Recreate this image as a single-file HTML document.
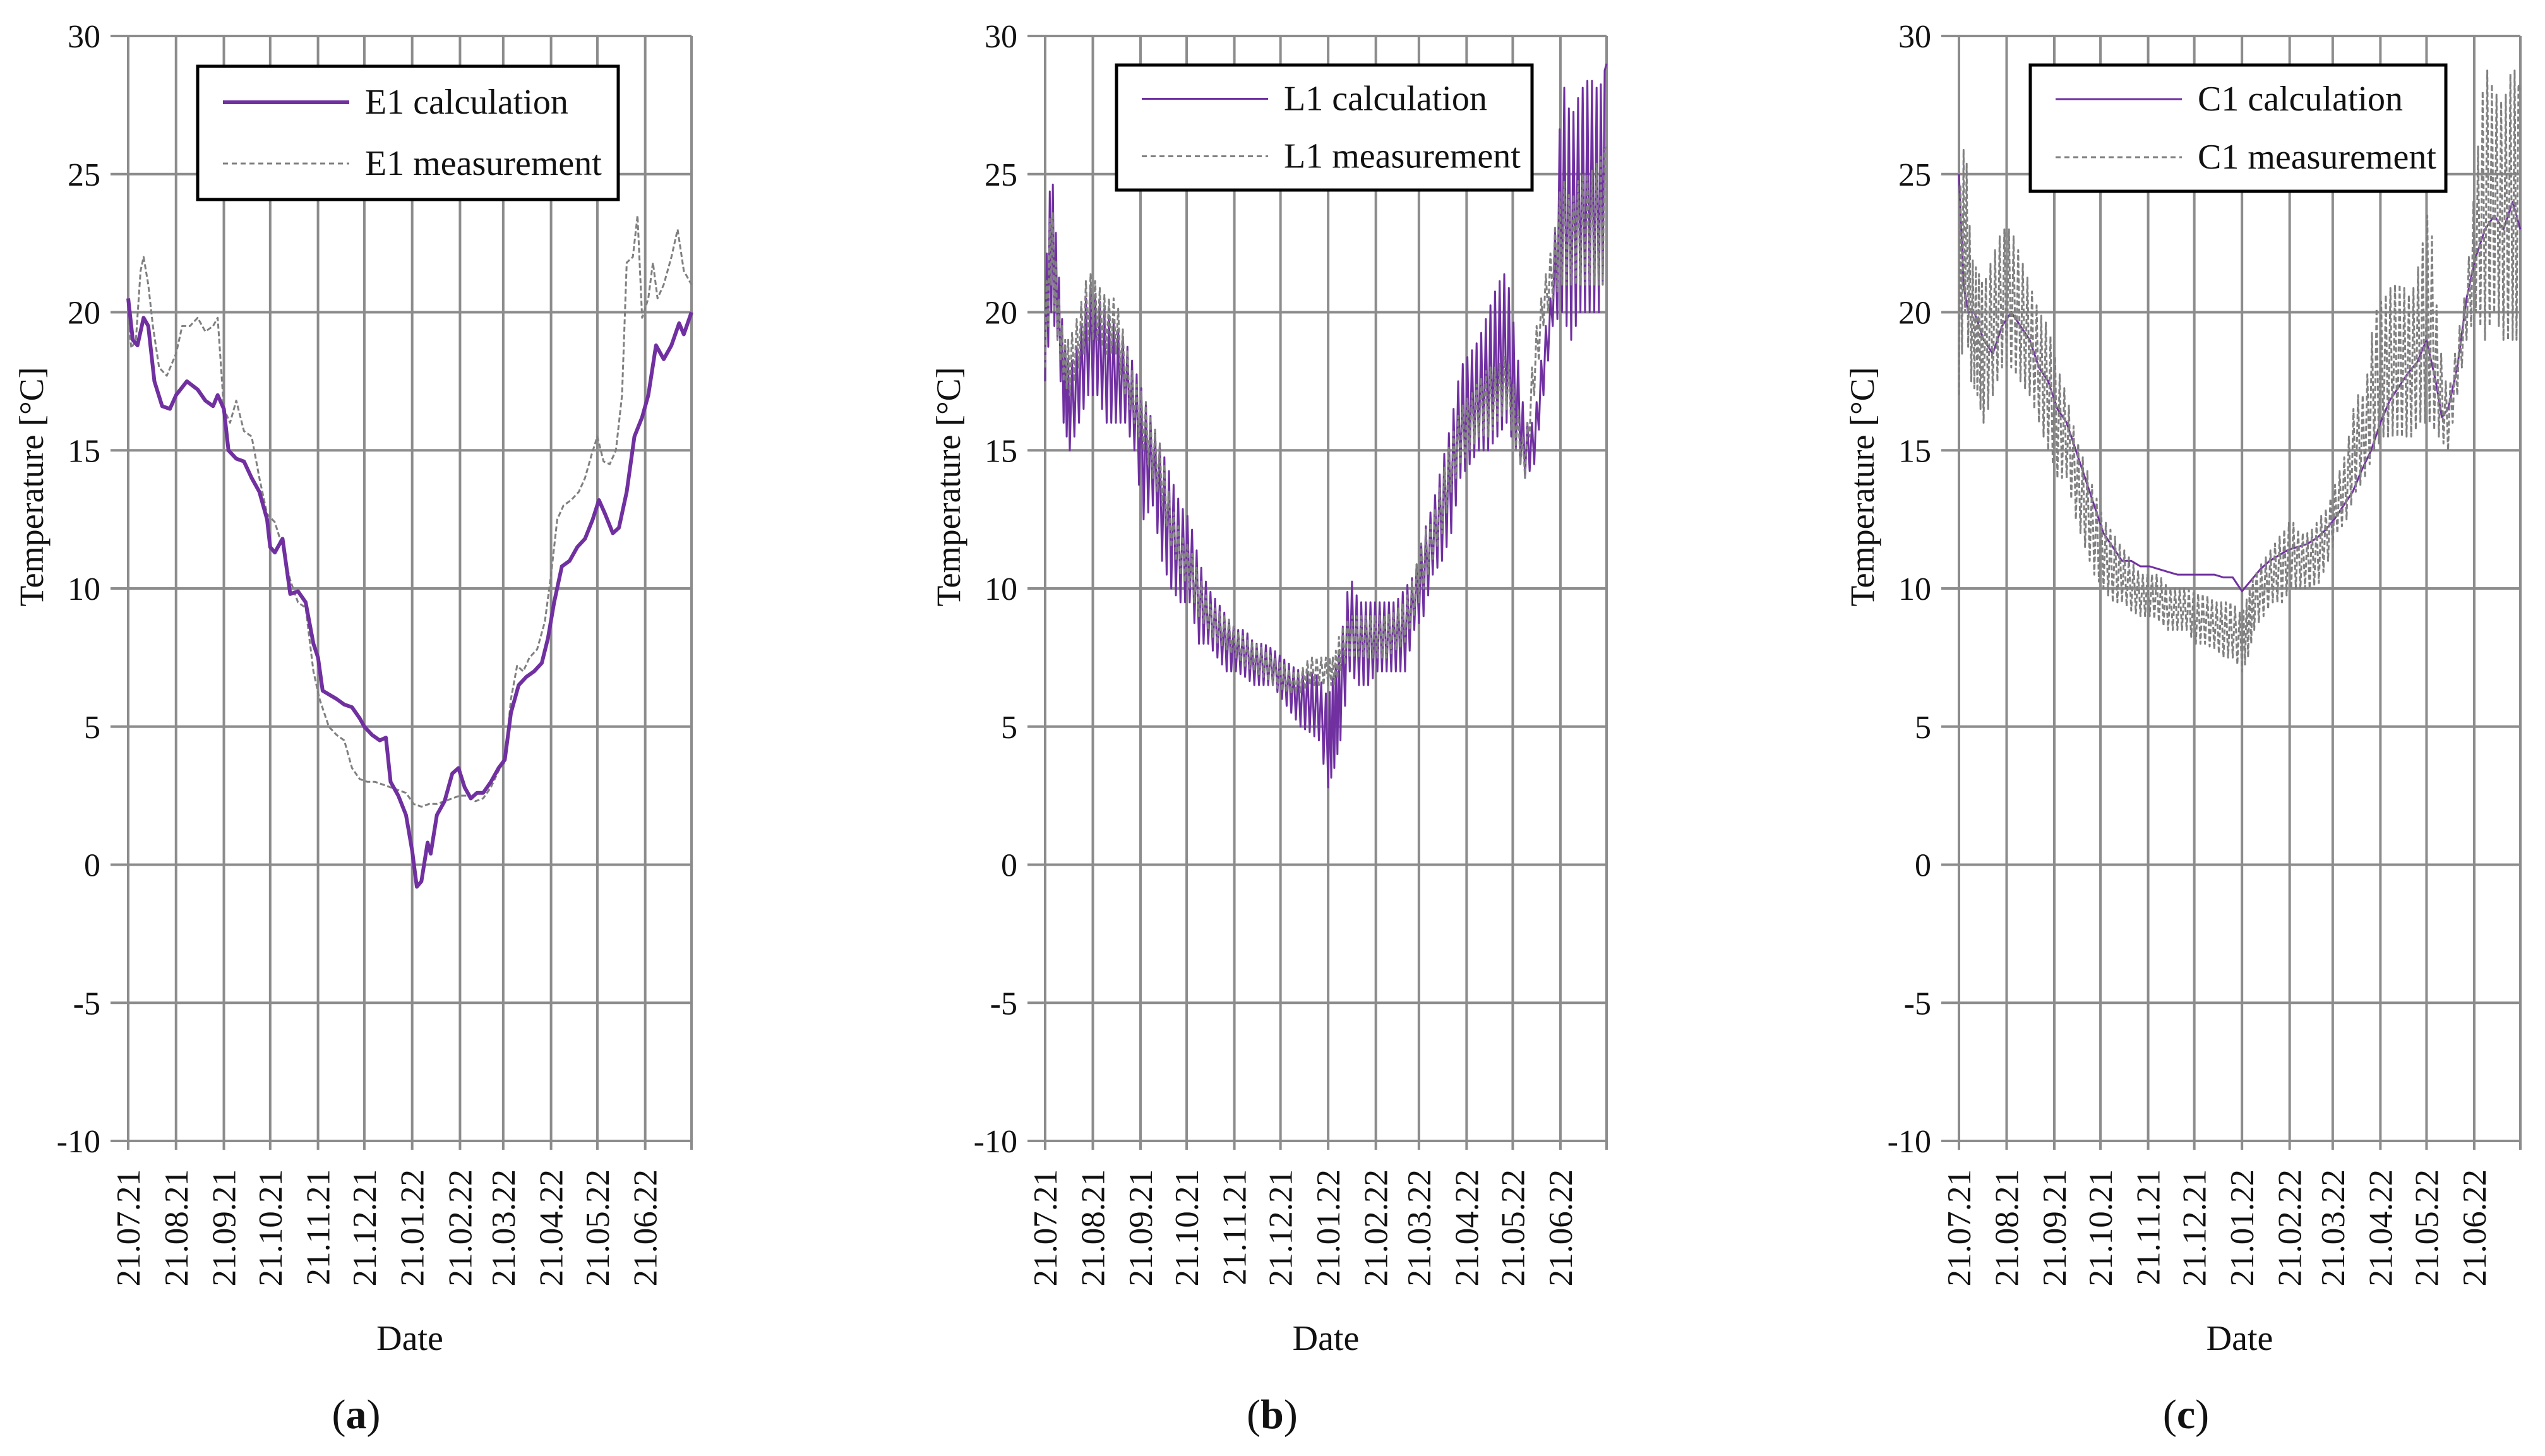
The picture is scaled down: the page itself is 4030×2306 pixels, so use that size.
<!DOCTYPE html>
<html><head><meta charset="utf-8"><style>
html,body{margin:0;padding:0;background:#fff;}
svg{display:block;font-family:"Liberation Serif",serif;}
svg text{font-family:"Liberation Serif",serif;}
</style></head><body>
<svg id="fig" width="4030" height="2306" viewBox="0 0 4030 2306" font-family="Liberation Serif, serif" xmlns="http://www.w3.org/2000/svg"></svg>
<script>
// ---------- data ----------
const monthLabels = ["21.07.21","21.08.21","21.09.21","21.10.21","21.11.21","21.12.21","21.01.22","21.02.22","21.03.22","21.04.22","21.05.22","21.06.22"];
const monthDays = [0,31,62,92,123,153,184,215,243,274,304,335];
const yTicks = [-10,-5,0,5,10,15,20,25,30];

// Panel a (smooth lines): [day, value]
const e1CalcDays = [0,3,6,10,13,17,22,27,31,38,45,50,55,58,62,65,70,75,80,85,90,92,95,100,105,110,115,120,123,126,135,140,145,150,153,158,163,167,170,175,180,184,187,190,194,196,200,205,210,214,218,222,226,230,235,240,244,248,253,258,263,268,272,276,281,286,291,296,301,305,309,314,318,323,328,333,337,342,347,352,357,360,365];
const e1CalcVals = [20.5,19,18.8,19.8,19.5,17.5,16.6,16.5,17.0,17.5,17.2,16.8,16.6,17.0,16.5,15.0,14.7,14.6,14.0,13.5,12.5,11.5,11.3,11.8,9.8,9.9,9.5,8.0,7.5,6.3,6.0,5.8,5.7,5.3,5.0,4.7,4.5,4.6,3.0,2.5,1.8,0.5,-0.8,-0.6,0.8,0.4,1.8,2.3,3.3,3.5,2.8,2.4,2.6,2.6,3.0,3.5,3.8,5.5,6.5,6.8,7.0,7.3,8.2,9.5,10.8,11.0,11.5,11.8,12.5,13.2,12.7,12.0,12.2,13.5,15.5,16.2,17.0,18.8,18.3,18.8,19.6,19.2,20.0];
const e1MeasDays = [0,2,5,8,10,13,16,20,25,31,35,40,45,50,55,58,62,66,70,75,80,85,90,95,100,105,110,115,120,124,130,135,140,145,150,155,160,165,170,175,180,185,190,195,200,205,210,215,220,225,230,235,240,244,248,252,256,260,265,270,274,278,282,287,292,296,300,304,308,312,316,320,323,327,330,333,337,340,343,347,352,356,360,365];
const e1MeasVals = [20,18.7,19.0,21.5,22.0,21.0,19.5,18.0,17.7,18.5,19.5,19.5,19.8,19.3,19.5,19.8,16.5,16.0,16.8,15.7,15.5,14.0,12.7,12.4,11.5,10.3,9.5,9.3,7.0,6.0,5.0,4.7,4.5,3.5,3.1,3.0,3.0,2.9,2.8,2.7,2.6,2.2,2.1,2.2,2.2,2.3,2.4,2.5,2.5,2.3,2.4,2.8,3.4,3.7,6.0,7.2,7.0,7.5,7.8,8.8,10.5,12.5,13.0,13.2,13.5,14.0,14.8,15.5,14.6,14.5,15.0,17.0,21.8,22.0,23.5,19.8,20.5,21.8,20.5,21.0,22.0,23.0,21.5,21.0];

// Panel b (noisy, envelope lo/hi)
const envDays = [0,4,8,12,16,22,28,34,40,46,52,58,64,70,76,82,88,94,100,106,112,118,124,130,136,142,148,154,160,166,172,178,184,188,192,198,204,210,216,222,228,234,240,246,252,258,264,270,276,282,288,294,300,306,312,318,324,330,336,342,348,354,360,365];
const l1CalcLo = [17.5,20,19,16,15,16,17,17,16,16,16,15,12.5,13,11,10,9.5,9.5,8,8,7.5,7,7,6.8,6.5,6.5,6.5,6,5.5,5,4.8,4.5,2.8,3.5,4.5,7,6.5,6.5,7,7,7,7,8.5,9,10.5,11,12,14,14.5,15,15,15.5,16,15,14,14.5,17,19.5,20,19,20,20,20,22];
const l1CalcHi = [21,25.5,22,19,18,19,21,20.5,20,19.5,19,18,17,16,15,14,13,12.5,11,10,9.5,9,8.5,8.5,8,8,7.8,7.5,7.2,7,7,6.8,6,7,8,10.5,9.5,9.5,9.5,9.5,9.5,10,10.5,12,13,14.5,16,18,18.5,19,20,21,21.5,19,16,16,19,21,28.5,27,28,28.5,28,29];
const l1MeasLo = [18,21,19,17.5,17,18,19,19,18.5,18.5,17,16,15,14,13,11.5,10.5,10,9,8.5,8,7.8,7.5,7.2,7,6.8,6.5,6.3,6.2,6.2,6.5,6.5,6.5,6.5,7,7.5,7.5,7.5,7.5,7.5,7.8,8,9,10,11,12,13.5,14.5,15,15.5,15.5,16,16.5,15,14,17,19.5,20.5,21,21,21,21,21,21];
const l1MeasHi = [20,24.5,21,19,19,20,21.5,21,20.5,20.5,19,17.5,17,16,15,13,12,11.5,10.5,9.5,9.2,9,8.5,8.2,8,7.8,7.5,7.3,7,7,7.5,7.5,7.5,7.5,8.5,9,9,9,9,9,9.2,9.5,10.5,12,12.5,14,15.5,16.5,17,17.5,18,18,18.5,17,15,19,21,22.5,25,24,25,25,25.5,26];

// Panel c
const c1CalcDays = [0,3,6,10,16,22,28,34,40,46,52,58,64,70,76,82,88,94,100,106,112,118,124,130,136,142,148,154,160,166,172,178,184,190,196,202,208,214,220,226,232,238,244,250,256,262,268,274,280,286,292,298,304,310,314,318,324,330,336,342,348,354,360,365];
const c1CalcVals = [25,21,20,20,19,18.5,19.5,20,19.5,19,18,17.5,16.5,16,15,14,13,12,11.5,11,11,10.8,10.8,10.7,10.6,10.5,10.5,10.5,10.5,10.5,10.4,10.4,9.9,10.3,10.7,11,11.2,11.4,11.5,11.6,11.8,12.1,12.5,13,13.5,14.3,15,16,16.8,17.3,17.8,18.2,19,17.5,16.2,16.5,18,20.5,22,23,23.5,23,24,23];
const c1MeasLo = [17,20,17.5,17,16,17,18,18,17.5,17,16,15,14,14,12.5,11.5,10.5,10,9.5,9.5,9.2,9,9,8.8,8.5,8.5,8.5,8,8,7.8,7.5,7.5,7,7.5,8.5,9,9.5,9.5,10,10,10,10.2,11,12,12.5,13.5,14,15,15.5,15.5,15.5,15.5,16,16,15.5,15,17,19,20,19,20,19,19,19];
const c1MeasHi = [24,26.5,22,21.5,21,22,23,23,22,21,20,19.5,18,17,15.5,14.5,13.5,12.5,12,11.5,11,10.5,10.5,10.5,10,10,10,9.8,9.8,9.5,9.5,9.5,9,9.8,10.5,11,11.5,12,12.5,12,12,12.5,13,14,15,17,17,20,20.5,21,21,20.5,22,24,19,17,19,21,25,29,28,27.5,29,28];

// ---------- drawing ----------
const NS = "http://www.w3.org/2000/svg";
const svg = document.getElementById("fig");
const PURPLE = "#7030a0", GRID = "#8c8c8c", MEAS = "#808080";
const TOP = 57, BOT = 1807, Y0 = -10, Y1 = 30, XMAX = 365;
const FF = "Liberation Serif, serif";

function mk(tag, attrs, parent) {
  const e = document.createElementNS(NS, tag);
  for (const k in attrs) e.setAttribute(k, attrs[k]);
  if (tag === "text") e.setAttribute("font-family", FF);
  (parent || svg).appendChild(e);
  return e;
}

function panel(cfg) {
  const g = mk("g", {});
  
  
  const L = cfg.left, R = cfg.right;
  const xs = d => L + (d / XMAX) * (R - L);
  const ys = v => BOT - (v - Y0) / (Y1 - Y0) * (BOT - TOP);

  yTicks.forEach(t => {
    const ln = mk("line", {x1: L - 28, x2: R, y1: ys(t), y2: ys(t), stroke: GRID, "stroke-width": 4}, g);
    
    
    const tx = mk("text", {x: L - 44, y: ys(t) + 18, "text-anchor": "end", "font-size": 52, fill: "#111"}, g);
    tx.textContent = t;
    
    
  });
  monthDays.forEach((d, i) => {
    const ln = mk("line", {x1: xs(d), x2: xs(d), y1: TOP, y2: BOT + 14, stroke: GRID, "stroke-width": 4}, g);
    
    
    const tx = mk("text", {x: 0, y: 0, "text-anchor": "end", "font-size": 53, fill: "#111",
      transform: `translate(${xs(d) + 18},1852) rotate(-90)`}, g);
    tx.textContent = monthLabels[i];
    
    
  });
  const rl = mk("line", {x1: R, x2: R, y1: TOP, y2: BOT + 14, stroke: GRID, "stroke-width": 4}, g);
  
  

  cfg.series.forEach(s => {
    let pts = [];
    if (s.vals) {
      s.days.forEach((d, i) => pts.push([xs(d), ys(s.vals[i])]));
    } else {
      let flip = 0;
      for (let i = 0; i < s.days.length - 1; i++) {
        const n = 4;
        for (let k = 0; k < n; k++) {
          const f = k / n;
          const d = s.days[i] + f * (s.days[i + 1] - s.days[i]);
          const lo = s.lo[i] + f * (s.lo[i + 1] - s.lo[i]);
          const hi = s.hi[i] + f * (s.hi[i + 1] - s.hi[i]);
          pts.push([xs(d), ys(flip ? hi : lo)]);
          flip = 1 - flip;
        }
      }
      const j = s.days.length - 1;
      pts.push([xs(s.days[j]), ys(s.hi[j])]);
    }
    const p = mk("polyline", {points: pts.map(q => q[0].toFixed(1) + "," + q[1].toFixed(1)).join(" "),
      fill: "none", stroke: s.color, "stroke-width": s.w, "stroke-linejoin": "round",
      "stroke-dasharray": s.dash || "none"}, g);
    
    
  });

  const lg = mk("g", {}, g);
  
  
  const b = cfg.legend;
  mk("rect", {x: b.x, y: b.y, width: b.w, height: b.h, fill: "#fff", stroke: "#000", "stroke-width": 5}, lg);
  const r1 = b.y + b.h * 0.27, r2 = b.y + b.h * 0.73;
  mk("line", {x1: b.x + 40, x2: b.x + 240, y1: r1, y2: r1, stroke: PURPLE, "stroke-width": cfg.calcW}, lg);
  mk("line", {x1: b.x + 40, x2: b.x + 240, y1: r2, y2: r2, stroke: MEAS, "stroke-width": 3, "stroke-dasharray": "8 6"}, lg);
  const t1 = mk("text", {x: b.x + 265, y: r1 + 18, "font-size": 56, fill: "#111"}, lg);
  t1.textContent = cfg.prefix + " calculation";
  
  
  const t2 = mk("text", {x: b.x + 265, y: r2 + 18, "font-size": 56, fill: "#111"}, lg);
  t2.textContent = cfg.prefix + " measurement";
  
  

  const yt = mk("text", {x: 0, y: 0, "text-anchor": "middle", "font-size": 54, fill: "#111",
    transform: `translate(${L - 135},771) rotate(-90)`}, g);
  yt.textContent = "Temperature [°C]";
  
  
  const xt = mk("text", {x: (L + R) / 2, y: 2138, "text-anchor": "middle", "font-size": 56, fill: "#111"}, g);
  xt.textContent = "Date";
  
  
  const cap = mk("text", {x: (L + R) / 2 - 85, y: 2262, "text-anchor": "middle", "font-size": 66, fill: "#111"}, g);
  cap.innerHTML = '(<tspan font-weight="bold">' + cfg.letter + '</tspan>)';
  
  
}

panel({name: "panel-a", left: 203, right: 1095, prefix: "E1", letter: "a", calcW: 6,
  legend: {x: 313, y: 105, w: 666, h: 211},
  series: [
    {days: e1MeasDays, vals: e1MeasVals, color: MEAS, w: 3, dash: "8 4", dname: "e1-measurement-line"},
    {days: e1CalcDays, vals: e1CalcVals, color: PURPLE, w: 6, dname: "e1-calculation-line"}
  ]});
panel({name: "panel-b", left: 1655, right: 2544, prefix: "L1", letter: "b", calcW: 3,
  legend: {x: 1768, y: 103, w: 658, h: 198},
  series: [
    {days: envDays, lo: l1CalcLo, hi: l1CalcHi, color: PURPLE, w: 3, dname: "l1-calculation-line"},
    {days: envDays, lo: l1MeasLo, hi: l1MeasHi, color: MEAS, w: 3, dash: "8 4", dname: "l1-measurement-line"}
  ]});
panel({name: "panel-c", left: 3102, right: 3991, prefix: "C1", letter: "c", calcW: 3,
  legend: {x: 3215, y: 103, w: 658, h: 200},
  series: [
    {days: c1CalcDays, vals: c1CalcVals, color: PURPLE, w: 3, dname: "c1-calculation-line"},
    {days: envDays, lo: c1MeasLo, hi: c1MeasHi, color: MEAS, w: 3, dash: "8 4", dname: "c1-measurement-line"}
  ]});
</script>
</body></html>
